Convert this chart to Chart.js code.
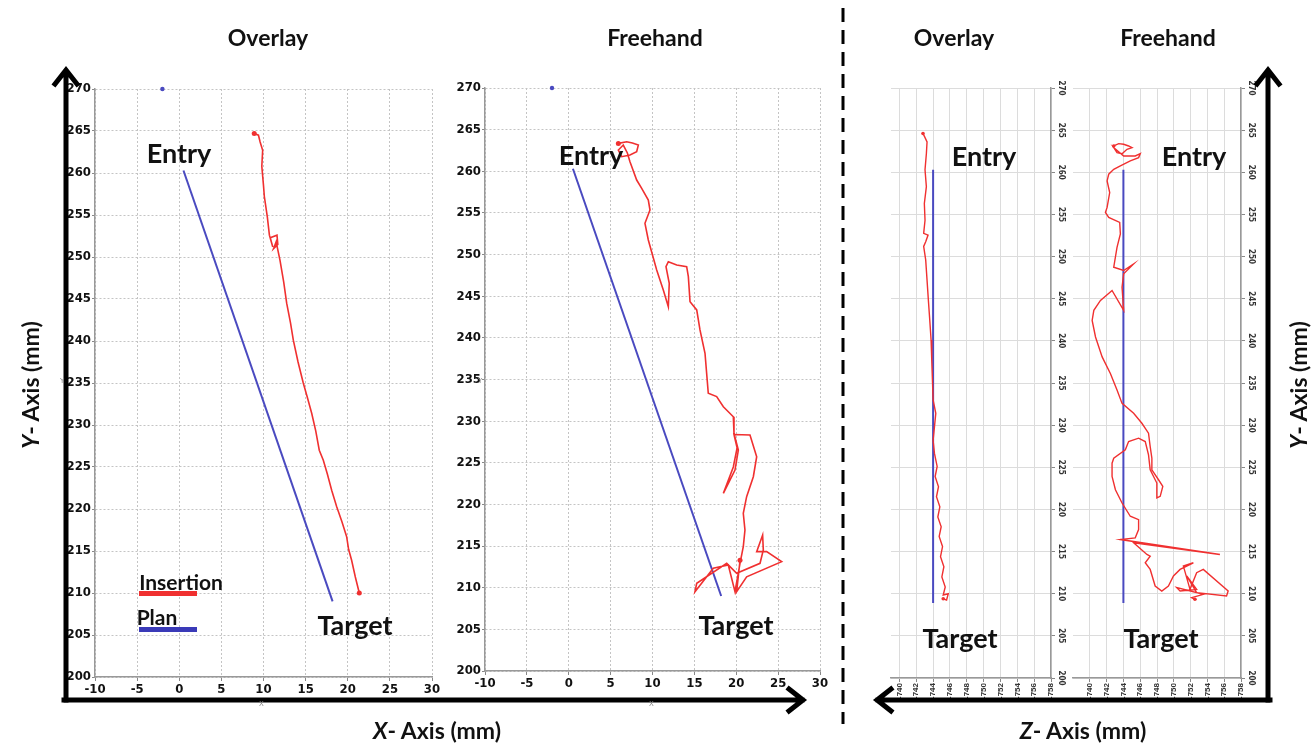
<!DOCTYPE html>
<html><head><meta charset="utf-8">
<script src="https://cdn.jsdelivr.net/npm/chart.js@4.4.1/dist/chart.umd.min.js"></script>
<style>
html,body{margin:0;padding:0;background:#fff;width:1316px;height:747px;overflow:hidden;position:relative;font-family:Lato,"Open Sans",sans-serif;}
canvas{position:absolute;}
.t{position:absolute;font-weight:700;color:#111;white-space:nowrap;line-height:1;transform:translate(-50%,-50%);}
.r{transform:translate(-50%,-50%) rotate(-90deg);}
.s{position:absolute;font-size:7px;color:#888;font-family:"DejaVu Sans",sans-serif;}
</style></head><body>

<canvas id="c1"></canvas>
<canvas id="c2"></canvas>
<canvas id="c3"></canvas>
<canvas id="c4"></canvas>

<svg width="1316" height="747" style="position:absolute;left:0;top:0;pointer-events:none">
 <g stroke="#000" stroke-width="5" fill="none" stroke-linecap="square" stroke-linejoin="miter">
  <path d="M66 700 V72 M55 84 L66 70 L77 84"/>
  <path d="M64 700 H802 M789 689 L803 700 L789 711"/>
  <path d="M1268 700 V72 M1257 84 L1268 70 L1279 84"/>
  <path d="M1270 700 H878 M891 689 L877 700 L891 711"/>
 </g>
 <line x1="843" y1="8" x2="843" y2="724" stroke="#000" stroke-width="3" stroke-dasharray="14 8"/>
</svg>

<div class="t" style="left:268px;top:37px;font-size:23px">Overlay</div>
<div class="t" style="left:655px;top:37px;font-size:23px">Freehand</div>
<div class="t" style="left:954px;top:37px;font-size:23px">Overlay</div>
<div class="t" style="left:1168px;top:37px;font-size:23px">Freehand</div>

<div class="t" style="left:179px;top:152px;font-size:27px">Entry</div>
<div class="t" style="left:355px;top:624px;font-size:27px">Target</div>
<div class="t" style="left:591px;top:154px;font-size:27px">Entry</div>
<div class="t" style="left:736px;top:624px;font-size:27px">Target</div>
<div class="t" style="left:984px;top:155px;font-size:27px">Entry</div>
<div class="t" style="left:960px;top:637px;font-size:27px">Target</div>
<div class="t" style="left:1194px;top:155px;font-size:27px">Entry</div>
<div class="t" style="left:1161px;top:637px;font-size:27px">Target</div>

<div class="t" style="left:181px;top:581px;font-size:21px">Insertion</div>
<div style="position:absolute;left:139px;top:591px;width:58px;height:5px;background:#f03030"></div>
<div class="t" style="left:157px;top:616px;font-size:21px">Plan</div>
<div style="position:absolute;left:139px;top:627px;width:58px;height:5px;background:#3a3ab8"></div>

<div class="t" style="left:437px;top:730px;font-size:23px"><i>X</i>- Axis (mm)</div>
<div class="t" style="left:1083px;top:730px;font-size:23px"><i>Z</i>- Axis (mm)</div>
<div class="t r" style="left:30px;top:385px;font-size:23px"><i>Y</i>- Axis (mm)</div>
<div class="t r" style="left:1298px;top:385px;font-size:23px"><i>Y</i>- Axis (mm)</div>

<div class="s" style="left:60px;top:377px">Y</div>
<div class="s" style="left:478px;top:377px">Y</div>
<div class="s" style="left:259px;top:700px">X</div>
<div class="s" style="left:649px;top:700px">X</div>

<script>
// ---------- data ----------
const xTicks = [-10, -5, 0, 5, 10, 15, 20, 25, 30];
const yTicks = [200, 205, 210, 215, 220, 225, 230, 235, 240, 245, 250, 255, 260, 265, 270];
const zTicks = [-740, -742, -744, -746, -748, -750, -752, -754, -756, -758];

// Planned trajectory (entry -> target)
const planX = [0.5, 18.2];
const planY = [260.3, 209.0];
const planZ = [-744, -744];
const planZY = [260.3, 208.9];
const markX = [-2];
const markY = [270];

// Overlay insertion, X-Y
const ovX = [8.9,9.4,9.6,9.9,9.8,10.0,10.1,10.45,10.7,11.1,10.8,11.6,11.7,11.2,11.5,11.96,12.4,12.75,13.2,13.54,14.1,14.72,15.2,15.72,16.2,16.62,17.1,17.57,18.1,18.68,19.3,19.87,20.1,20.46,20.9,21.37];
const ovY = [264.7,264.5,263.7,262.7,260.8,258.5,257.2,254.8,252.6,251.2,252.3,252.6,251.5,251.0,251.8,249.6,247.0,244.5,242.2,240.1,237.5,235.0,233.3,231.4,229.3,227.0,225.8,224.2,222.2,220.3,218.5,216.7,215.2,213.9,211.9,210.0];

// Freehand insertion, X-Y
const fhX = [5.92,6.92,7.6,8.31,8.11,7.31,6.32,5.92,6.51,7.0,7.31,8.11,8.71,9.5,9.7,9.1,9.5,10.5,11.29,11.89,12.0,11.61,11.89,12.89,14.08,14.28,14.48,15.28,15.67,16.27,16.66,17.66,18.46,19.65,19.73,20.25,19.85,18.46,19.65,20.1,19.73,21.64,22.44,22.04,21.24,20.84,21.04,20.84,20.45,19.85,19.05,17.26,15.07,15.28,18.86,20.05,22.84,23.23,23.15,22.44,23.63,25.42,21.24,20.05,20.45];
const fhY = [263.35,263.55,263.4,263.15,262.35,261.95,261.75,262.55,263.15,262.2,261.15,258.95,257.95,256.55,255.35,253.75,251.75,248.15,245.75,243.75,246.55,248.55,249.15,248.75,248.55,247.35,244.35,243.35,240.95,238.15,233.35,232.95,231.73,230.53,228.53,226.53,224.13,221.33,224.5,226.8,228.4,228.33,225.73,223.33,220.93,218.93,216.93,214.93,212.93,209.52,212.73,212.33,209.52,210.53,212.93,211.73,212.93,214.53,216.33,214.33,214.33,213.13,211.3,209.52,213.3];

// Overlay insertion, Z-Y
const ovZ = [-742.8,-743.0,-743.28,-743.2,-743.04,-743.2,-742.96,-743.04,-742.88,-743.4,-743.12,-742.88,-743.12,-743.28,-743.44,-743.6,-743.76,-743.84,-743.92,-744.0,-744.32,-744.16,-744.0,-744.16,-744.48,-744.24,-744.64,-744.4,-744.8,-744.56,-744.96,-744.72,-745.12,-744.88,-745.28,-745.04,-745.44,-745.2,-745.8,-745.6,-745.2];
const ovZY = [264.6,264.2,263.6,262.2,260.3,258.3,256.3,254.3,252.75,252.55,251.76,251.2,249.6,247.2,244.8,242.5,240.1,237.7,235.35,233.0,231.4,229.8,228.2,226.65,225.1,223.9,222.7,221.5,220.3,219.1,217.95,216.8,215.6,214.4,213.2,212.0,210.8,209.85,210.0,209.25,209.4];

// Freehand insertion, Z-Y
const fhZ = [-742.85,-743.44,-744.03,-744.62,-745.02,-744.43,-743.84,-743.24,-742.85,-744.03,-745.41,-746.01,-745.81,-744.82,-743.64,-742.85,-742.25,-742.06,-742.37,-742.06,-741.86,-742.25,-743.56,-743.64,-743.24,-742.85,-744.03,-745.22,-744.03,-743.84,-744.03,-742.65,-741.27,-740.48,-740.28,-740.68,-741.47,-742.45,-743.24,-743.84,-745.22,-746.2,-746.99,-747.19,-747.39,-747.39,-748.18,-748.69,-748.38,-747.98,-747.98,-747.19,-746.99,-746.6,-745.81,-744.62,-744.23,-742.85,-742.65,-742.65,-743.05,-743.84,-744.82,-745.81,-745.81,-745.41,-743.64,-755.49,-745.22,-746.8,-747.19,-746.6,-747.19,-747.78,-748.57,-749.36,-749.96,-750.75,-752.33,-751.14,-751.93,-752.72,-753.51,-756.47,-756.28,-752.72,-751.54,-752.72,-750.75,-750.35,-753.51,-752.13,-752.52];
const fhZY = [263.12,263.4,263.32,263.12,262.92,262.73,262.21,262.33,262.92,261.94,261.94,262.21,261.74,261.35,260.76,260.36,259.77,258.98,257.6,255.83,255.24,254.65,254.06,252.68,251.1,248.74,248.35,249.13,247.95,246.37,243.62,245.98,244.8,243.62,242.43,240.46,238.1,236.13,234.16,232.58,231.4,230.22,229.04,227.46,226.08,224.7,223.52,222.73,221.55,221.36,223.13,224.7,226.48,228.05,228.45,228.05,227.07,226.08,225.49,223.92,222.34,220.76,219.19,218.79,217.61,216.63,216.43,214.66,216.04,214.66,214.46,213.67,212.88,210.91,210.32,210.91,212.1,212.88,213.67,213.28,210.52,212.49,212.88,210.32,209.73,210.13,212.1,210.52,210.32,210.72,209.93,209.54,209.34];

// ---------- helpers ----------
const RED = '#f03030', BLUE = '#4a4ac0';
const zip = (a, b) => a.map((v, i) => ({x: v, y: b[i]}));
const endDots = r => ctx => (ctx.dataIndex === 0 || ctx.dataIndex === ctx.dataset.data.length - 1) ? r : 0;

const rotY = {
  id: 'rotY',
  afterDraw(chart, args, opts) {
    if (!opts || !opts.on) return;
    const s = chart.scales.y, ctx = chart.ctx;
    ctx.save();
    ctx.font = 'bold 8px "Liberation Sans Narrow", "DejaVu Sans Condensed", sans-serif';
    ctx.fillStyle = '#333'; ctx.textAlign = 'center'; ctx.textBaseline = 'middle';
    s.ticks.forEach((t, i) => {
      const y = s.getPixelForTick(i);
      ctx.save(); ctx.translate(s.left + 10, y); ctx.rotate(Math.PI / 2);
      ctx.fillText(String(t.value), 0, 0); ctx.restore();
    });
    ctx.restore();
  }
};

function place(id, L, R, T, B, yLeft) {
  const c = document.getElementById(id);
  const yw = yLeft ? 45 : 22, pt = 12, xb = 30, side = yLeft ? 15 : 12;
  const w = yw + (R - L) + side, h = pt + (B - T) + xb;
  c.width = w; c.height = h;
  c.style.left = (yLeft ? L - yw : L - side) + 'px';
  c.style.top = (T - pt) + 'px';
  c.style.width = w + 'px'; c.style.height = h + 'px';
  return {c, yw, pt, xb, side};
}

function xyPanel(id, L, R, T, B, ins) {
  const p = place(id, L, R, T, B, true);
  const tickFont = {family: '"Liberation Sans Narrow", "DejaVu Sans Condensed", sans-serif', size: 13, weight: 'bold'};
  return new Chart(p.c, {
    type: 'scatter',
    data: {datasets: [
      {data: zip(ins[0], ins[1]), showLine: true, borderColor: RED, borderWidth: 1.6, pointRadius: endDots(2.5), pointBackgroundColor: RED, pointBorderWidth: 0, tension: 0},
      {data: zip(planX, planY), showLine: true, borderColor: BLUE, borderWidth: 2, pointRadius: 0},
      {data: zip(markX, markY), showLine: false, pointRadius: 2.2, pointBackgroundColor: BLUE, pointBorderWidth: 0, clip: false}
    ]},
    options: {
      responsive: false, animation: false, events: [],
      layout: {padding: {top: p.pt, right: p.side, left: 0, bottom: 0}, autoPadding: false},
      plugins: {legend: {display: false}, tooltip: {enabled: false}},
      scales: {
        x: {type: 'linear', min: xTicks[0], max: xTicks[xTicks.length - 1],
            afterBuildTicks: s => { s.ticks = xTicks.map(v => ({value: v})); },
            afterFit: s => { s.height = p.xb; },
            ticks: {font: tickFont, color: '#111', padding: 1, maxRotation: 0},
            grid: {color: '#c4c4c4', lineWidth: 1, tickLength: 4, tickColor: '#888'},
            border: {display: true, color: '#999', width: 1.5, dash: [2, 2]}},
        y: {type: 'linear', min: yTicks[0], max: yTicks[yTicks.length - 1],
            afterBuildTicks: s => { s.ticks = yTicks.map(v => ({value: v})); },
            afterFit: s => { s.width = p.yw; },
            ticks: {font: tickFont, color: '#111', padding: 1},
            grid: {color: '#c4c4c4', lineWidth: 1, tickLength: 3, tickColor: '#888'},
            border: {display: true, color: '#999', width: 1.5, dash: [2, 2]}}
      }
    }
  });
}

function zyPanel(id, L, R, T, B, zmax, ins) {
  const p = place(id, L, R, T, B, false);
  return new Chart(p.c, {
    type: 'scatter',
    data: {datasets: [
      {data: zip(ins[0], ins[1]), showLine: true, borderColor: RED, borderWidth: 1.4, pointRadius: endDots(1.8), pointBackgroundColor: RED, pointBorderWidth: 0, tension: 0},
      {data: zip(planZ, planZY), showLine: true, borderColor: BLUE, borderWidth: 2, pointRadius: 0}
    ]},
    plugins: [rotY],
    options: {
      responsive: false, animation: false, events: [],
      layout: {padding: {top: p.pt, right: 0, left: p.side, bottom: 0}, autoPadding: false},
      plugins: {legend: {display: false}, tooltip: {enabled: false}, rotY: {on: true}},
      scales: {
        x: {type: 'linear', reverse: true, min: zTicks[zTicks.length - 1], max: zmax,
            afterBuildTicks: s => { s.ticks = zTicks.map(v => ({value: v})); },
            afterFit: s => { s.height = p.xb; },
            ticks: {font: {family: '"Liberation Sans Narrow", sans-serif', size: 8, weight: 'bold'}, color: '#333', padding: 1, minRotation: 90, maxRotation: 90},
            grid: {color: '#dcdcdc', lineWidth: 1, tickLength: 4, tickColor: '#888'},
            border: {display: true, color: '#999', width: 1.5}},
        y: {type: 'linear', position: 'right', min: yTicks[0], max: yTicks[yTicks.length - 1],
            afterBuildTicks: s => { s.ticks = yTicks.map(v => ({value: v})); },
            afterFit: s => { s.width = p.yw; },
            ticks: {display: false},
            grid: {color: '#dcdcdc', lineWidth: 1, tickLength: 4, tickColor: '#888'},
            border: {display: true, color: '#999', width: 1.5}}
      }
    }
  });
}

xyPanel('c1', 95, 432, 89, 677, [ovX, ovY]);
xyPanel('c2', 485, 820, 88, 671, [fhX, fhY]);
zyPanel('c3', 891, 1051, 88, 678, -739, [ovZ, ovZY]);
zyPanel('c4', 1073, 1241, 88, 678, -738, [fhZ, fhZY]);
</script>
</body></html>
